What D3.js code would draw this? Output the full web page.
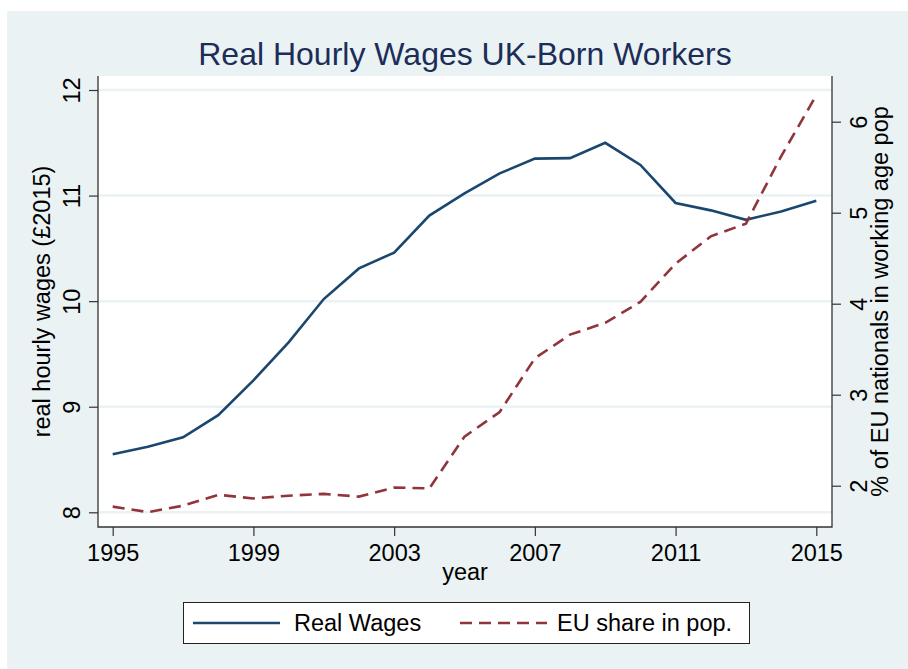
<!DOCTYPE html>
<html>
<head>
<meta charset="utf-8">
<script src="https://cdn.jsdelivr.net/npm/d3@7"></script>
<style>
	body { margin: 0; background: #ffffff; }
	text { font-family: "Liberation Sans", Arial, sans-serif; }
</style>
</head>
<body>
<div id="chart"></div>
<script>
// data
var years = [1995, 1996, 1997, 1998, 1999, 2000, 2001, 2002, 2003, 2004, 2005,
	2006, 2007, 2008, 2009, 2010, 2011, 2012, 2013, 2014, 2015];
var wages = [8.55, 8.62, 8.71, 8.92, 9.25, 9.61, 10.02, 10.31, 10.46, 10.81, 11.02,
	11.21, 11.35, 11.355, 11.50, 11.29, 10.93, 10.86, 10.77, 10.85, 10.95];
var euShare = [1.77, 1.71, 1.78, 1.90, 1.86, 1.89, 1.91, 1.88, 1.98, 1.97, 2.54,
	2.81, 3.40, 3.66, 3.79, 4.02, 4.44, 4.74, 4.88, 5.62, 6.29];
var xTicks = [1995, 1999, 2003, 2007, 2011, 2015];
var leftTicks = [8, 9, 10, 11, 12];
var rightTicks = [2, 3, 4, 5, 6];
var seriesNames = ["Real Wages", "EU share in pop."];

var w = 908;
var h = 669;
var navy = "#1a476f";
var maroon = "#90353b";
var panel = "#eaf2f3";
var fs = "23.5px";

var svg = d3.select("#chart").append("svg")
	.attr("width", w)
	.attr("height", h);

// plot region box
var plot = {left: 98, right: 832, top: 76, bottom: 527};

var x = d3.scaleLinear().domain([1995, 2015]).range([112.7, 816.3]);
var yLeft = d3.scaleLinear().domain([8, 12]).range([512.3, 90]);
var yRight = d3.scaleLinear().domain([2, 6]).range([485.7, 121.7]);

svg.append("rect")
	.attr("x", 7).attr("y", 11)
	.attr("width", w - 7).attr("height", h - 11)
	.style("fill", panel);

svg.append("rect")
	.attr("x", plot.left).attr("y", plot.top)
	.attr("width", plot.right - plot.left)
	.attr("height", plot.bottom - plot.top)
	.style("fill", "#ffffff");

// gridlines follow the left axis
svg.selectAll("line.grid")
	.data(leftTicks)
	.enter()
	.append("line")
	.attr("class", "grid")
	.attr("x1", plot.left).attr("x2", plot.right)
	.attr("y1", function(d) { return yLeft(d); })
	.attr("y2", function(d) { return yLeft(d); })
	.style("stroke", panel)
	.style("stroke-width", 2.5);

// axes
var xAxis = d3.axisBottom(x).tickValues(xTicks).tickFormat(d3.format("d"))
	.tickSize(9).tickPadding(8);
var leftAxis = d3.axisLeft(yLeft).tickValues(leftTicks).tickFormat(d3.format("d")).tickSize(9);
var rightAxis = d3.axisRight(yRight).tickValues(rightTicks).tickFormat(d3.format("d")).tickSize(9);

var gx = svg.append("g")
	.attr("transform", "translate(0," + plot.bottom + ")")
	.call(xAxis);
gx.select(".domain").remove();
gx.selectAll("text").style("font-size", fs).style("fill", "#000");

var gl = svg.append("g")
	.attr("transform", "translate(" + plot.left + ",0)")
	.call(leftAxis);
gl.select(".domain").remove();
gl.selectAll("text")
	.attr("x", null).attr("dy", null)
	.attr("text-anchor", "middle")
	.attr("transform", "translate(-18,0) rotate(-90)")
	.style("font-size", fs).style("fill", "#000");

var gr = svg.append("g")
	.attr("transform", "translate(" + plot.right + ",0)")
	.call(rightAxis);
gr.select(".domain").remove();
gr.selectAll("text")
	.attr("x", null).attr("dy", null)
	.attr("text-anchor", "middle")
	.attr("transform", "translate(35,0) rotate(-90)")
	.style("font-size", fs).style("fill", "#000");

svg.selectAll(".tick line").style("stroke", "#333").style("stroke-width", 1.2);

// axis lines
svg.append("path")
	.attr("d", "M" + plot.left + "," + plot.top + "V" + plot.bottom + "H" + plot.right + "V" + plot.top)
	.style("fill", "none")
	.style("stroke", "#333")
	.style("stroke-width", 1.3);

// series
var wageLine = d3.line()
	.x(function(d, i) { return x(years[i]); })
	.y(function(d) { return yLeft(d); });
var euLine = d3.line()
	.x(function(d, i) { return x(years[i]); })
	.y(function(d) { return yRight(d); });

svg.append("path")
	.datum(wages)
	.attr("d", wageLine)
	.style("fill", "none")
	.style("stroke", navy)
	.style("stroke-width", 2.6);

svg.append("path")
	.datum(euShare)
	.attr("d", euLine)
	.style("fill", "none")
	.style("stroke", maroon)
	.style("stroke-width", 2.6)
	.style("stroke-dasharray", "12,7");

// titles
svg.append("text")
	.attr("x", (plot.left + plot.right) / 2).attr("y", 65)
	.attr("text-anchor", "middle")
	.style("font-size", "32px")
	.style("fill", "#1c2d58")
	.text("Real Hourly Wages UK-Born Workers");

svg.append("text")
	.attr("x", (plot.left + plot.right) / 2).attr("y", 580)
	.attr("text-anchor", "middle")
	.style("font-size", fs)
	.text("year");

svg.append("text")
	.attr("transform", "translate(50," + (plot.top + plot.bottom) / 2 + ") rotate(-90)")
	.attr("text-anchor", "middle")
	.style("font-size", fs)
	.text("real hourly wages (\u00a32015)");

svg.append("text")
	.attr("transform", "translate(888," + (plot.top + plot.bottom) / 2 + ") rotate(-90)")
	.attr("text-anchor", "middle")
	.style("font-size", fs)
	.text("% of EU nationals in working age pop");

// legend
var legend = svg.append("g");
legend.append("rect")
	.attr("x", 183.5).attr("y", 602.5)
	.attr("width", 566).attr("height", 41)
	.style("fill", "#ffffff")
	.style("stroke", "#222")
	.style("stroke-width", 1);

var keys = [
	{x1: 193, x2: 280, tx: 294, color: navy, dash: null},
	{x1: 460, x2: 547, tx: 557, color: maroon, dash: "12,7"}
];
legend.selectAll("line.key")
	.data(keys)
	.enter()
	.append("line")
	.attr("class", "key")
	.attr("x1", function(d) { return d.x1; })
	.attr("x2", function(d) { return d.x2; })
	.attr("y1", 623).attr("y2", 623)
	.style("stroke", function(d) { return d.color; })
	.style("stroke-width", 2.6)
	.style("stroke-dasharray", function(d) { return d.dash; });
legend.selectAll("text.key")
	.data(keys)
	.enter()
	.append("text")
	.attr("class", "key")
	.attr("x", function(d) { return d.tx; })
	.attr("y", 631)
	.style("font-size", fs)
	.text(function(d, i) { return seriesNames[i]; });
</script>
</body>
</html>
